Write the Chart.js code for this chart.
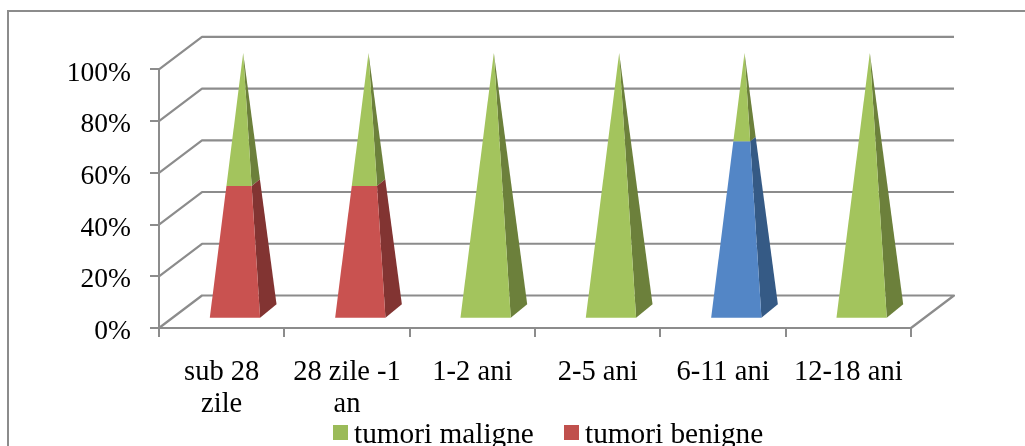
<!DOCTYPE html>
<html><head><meta charset="utf-8">
<style>html,body{margin:0;padding:0;background:#fff;overflow:hidden;width:1025px;height:446px}canvas{display:block;filter:blur(0.35px)}</style>
<script src="https://cdn.jsdelivr.net/npm/chart.js@4"></script>
</head><body><canvas id="c" width="1025" height="446"></canvas>
<script>
const categories = [['sub 28','zile'],['28 zile -1','an'],'1-2 ani','2-5 ani','6-11 ani','12-18 ani'];
const tumoriMaligne = [50,50,100,100,33.33,100];
const tumoriBenigne = [50,50,0,0,0,0];
const alteTumori = [0,0,0,0,66.67,0];
const legendOrder = ['tumori maligne','tumori benigne'];

const FONT = '"Liberation Serif","Times New Roman",serif';
const GRID = '#8c8c8c';
const DEPTH = {x:43, y:-32.5};   // depth of the 3D box
// Pyramid base footprint (half sizes, relative to the base centre)
const BASE = {fl:33.5, fr:17, br:33.5, dyFront:7, dyBack:6.5};

// Each bar element is drawn as a slice of a 3D pyramid, using the geometry Chart.js resolved.
Chart.BarController.prototype.draw = function(){
  const ctx = this.chart.ctx, area = this.chart.chartArea, ds = this.getDataset();
  this._cachedMeta.data.forEach(el=>{
    const top = Math.min(el.y,el.base), bot = Math.max(el.y,el.base);
    if (bot-top < 0.01) return;
    const cx = el.x + DEPTH.x/2;
    const lvl = p => {
      const s = (p-area.top)/(area.bottom-area.top), cy = p + DEPTH.y/2;
      return {fl:[cx-BASE.fl*s,cy+BASE.dyFront*s], fr:[cx+BASE.fr*s,cy+BASE.dyFront*s], br:[cx+BASE.br*s,cy-BASE.dyBack*s]};
    };
    const a = lvl(bot), b = lvl(top);
    const poly = (pts,col)=>{ctx.beginPath();pts.forEach((q,i)=>i?ctx.lineTo(q[0],q[1]):ctx.moveTo(q[0],q[1]));ctx.closePath();ctx.fillStyle=col;ctx.fill();};
    poly([a.fr,a.br,b.br,b.fr], ds.sideColor);
    poly([a.fl,a.fr,b.fr,b.fl], ds.frontColor);
  });
};

const walls = {
  id:'walls',
  beforeDraw(chart){
    const {ctx} = chart;
    ctx.save();
    ctx.strokeStyle = GRID; ctx.lineWidth = 2;
    ctx.strokeRect(8,11,1200,1000);
    ctx.restore();
  },
  beforeDatasetsDraw(chart){
    const {ctx,chartArea:A,scales:{y}} = chart;
    ctx.save();
    ctx.strokeStyle = GRID; ctx.lineWidth = 2.2; ctx.lineJoin='round';
    y.ticks.forEach(t=>{
      const p = y.getPixelForValue(t.value);
      ctx.beginPath();
      ctx.moveTo(A.left,p);
      ctx.lineTo(A.left+DEPTH.x,p+DEPTH.y);
      ctx.lineTo(A.right+DEPTH.x,p+DEPTH.y);
      if (t.value===0) ctx.lineTo(A.right,p);
      ctx.stroke();
    });
    ctx.restore();
  },
  afterDraw(chart){
    const {ctx} = chart;
    const items = legendOrder.map(n=>chart.data.datasets.find(d=>d.label===n));
    const xs = [333,564];
    ctx.save();
    ctx.font = '29.3px '+FONT; ctx.textBaseline='alphabetic'; ctx.textAlign='left';
    items.forEach((d,i)=>{
      ctx.fillStyle = d.backgroundColor; ctx.fillRect(xs[i],425,15,15);
      ctx.fillStyle = '#000'; ctx.fillText(d.label,xs[i]+21,443);
    });
    ctx.restore();
  }
};

new Chart(document.getElementById('c'),{
  type:'bar',
  data:{labels:categories,datasets:[
    {label:'alte tumori',data:alteTumori,clip:false,backgroundColor:'#4F81BD',frontColor:'#5386C6',sideColor:'#355A85'},
    {label:'tumori benigne',data:tumoriBenigne,clip:false,backgroundColor:'#C0504D',frontColor:'#C95250',sideColor:'#823432'},
    {label:'tumori maligne',data:tumoriMaligne,clip:false,backgroundColor:'#9BBB59',frontColor:'#A3C45D',sideColor:'#6C803B'}
  ]},
  plugins:[walls],
  options:{
    responsive:false,animation:false,
    layout:{padding:{top:69.3,right:114,left:0,bottom:0}},
    plugins:{legend:{display:false},tooltip:{enabled:false},title:{display:false}},
    scales:{
      x:{stacked:true,
        afterFit(s){s.height=118;},
        border:{color:GRID,width:2},
        grid:{drawOnChartArea:false,drawTicks:true,tickLength:9,color:GRID,lineWidth:2,tickColor:GRID,offset:true},
        ticks:{maxRotation:0,minRotation:0,autoSkip:false,color:'#000',padding:19,font:{family:FONT,size:28.5,lineHeight:1.14}}
      },
      y:{stacked:true,min:0,max:100,
        afterFit(s){s.width=159;},
        border:{color:GRID,width:2},
        grid:{drawOnChartArea:false,drawTicks:true,tickLength:9,color:GRID,lineWidth:2,tickColor:GRID},
        ticks:{stepSize:20,color:'#000',padding:19,labelOffset:4,font:{family:FONT,size:27.5},callback:v=>v+'%'}
      }
    }
  }
});
</script></body></html>
